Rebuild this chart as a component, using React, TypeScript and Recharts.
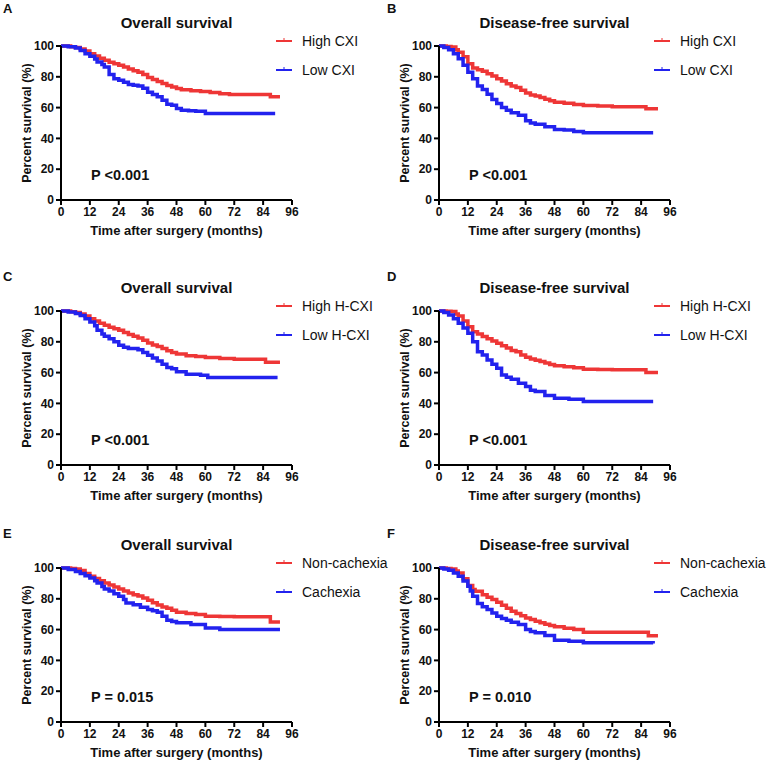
import React from 'react';
import { LineChart, Line, XAxis, YAxis } from 'recharts';

const xTicks = [0, 12, 24, 36, 48, 60, 72, 84, 96];
const yTicks = [0, 20, 40, 60, 80, 100];

// Panel A — Overall survival, CXI
const aHighT = [0, 4, 6, 8, 10, 12, 14, 16, 18, 20, 22, 24, 26, 28, 30, 32, 34, 36, 38, 40, 42, 44, 46, 48, 50, 54, 58, 62, 66, 70, 87, 91];
const aHighS = [100, 99.5, 99, 98, 96.8, 95, 93.5, 92, 90.7, 89.5, 88.5, 87.5, 86.3, 85, 84, 83, 81.5, 79.5, 78.3, 77, 75.6, 74.4, 73.3, 72.4, 71.6, 71, 70.5, 69.8, 69, 68.5, 67, 67];
const aLowT = [0, 3, 6, 8, 10, 12, 14, 15, 17, 18, 20, 22, 24, 26, 28, 30, 32, 34, 36, 38, 40, 42, 44, 46, 48, 50, 53, 56, 60, 89];
const aLowS = [100, 99.5, 98.7, 97, 95, 93.3, 91.5, 89.6, 88, 86.4, 81.5, 78.8, 77.8, 76.5, 75, 74.5, 74, 72.5, 70, 68.5, 67, 64.8, 62.2, 61.5, 59.4, 58.3, 58, 57.7, 56.2, 56.2];

// Panel B — Disease-free survival, CXI
const bHighT = [0, 3, 5, 7, 8, 10, 12, 14, 16, 18, 20, 22, 24, 26, 28, 30, 32, 34, 36, 38, 40, 42, 44, 46, 48, 52, 56, 60, 66, 72, 86, 91];
const bHighS = [100, 99.7, 99.4, 97.5, 96, 93, 88.5, 85.7, 84.5, 83.6, 82, 80.5, 78.8, 77.2, 75.5, 74, 73, 71.2, 69.5, 68.2, 67.5, 66.5, 65.4, 64.4, 63.4, 62.8, 62, 61.3, 61, 60.5, 59.2, 59.2];
const bLowT = [0, 2, 4, 6, 8, 10, 12, 14, 16, 18, 20, 22, 24, 26, 28, 30, 33, 36, 38, 40, 44, 48, 52, 56, 60, 89];
const bLowS = [100, 99, 97.6, 95, 91.8, 87.5, 83, 78.8, 74, 71.7, 68.7, 65.2, 62.6, 60, 58.3, 56.6, 55, 51.4, 50, 49.2, 47.5, 45.8, 45.4, 44.5, 43.6, 43.6];

// Panel C — Overall survival, H-CXI
const cHighT = [0, 4, 6, 8, 10, 12, 14, 16, 18, 20, 22, 24, 26, 28, 30, 32, 34, 36, 38, 40, 42, 44, 46, 48, 52, 56, 60, 66, 72, 85, 91];
const cHighS = [100, 99.5, 99, 98, 96.8, 95, 93.5, 92, 90.7, 89.5, 88.5, 87.5, 86, 84.7, 83.6, 82.5, 81, 79.3, 78, 77, 75.6, 74.2, 73, 72, 71, 70.5, 69.8, 69.2, 68.7, 66.8, 66.8];
const cLowT = [0, 3, 6, 8, 10, 12, 14, 15, 17, 18, 20, 22, 24, 26, 28, 32, 34, 36, 38, 40, 42, 44, 46, 48, 52, 58, 61, 90];
const cLowS = [100, 99.3, 98.3, 97, 95, 92.9, 90.5, 87.5, 85, 83.6, 82, 80, 77.8, 76.5, 75.6, 74.9, 73, 71.3, 69.5, 67.6, 65.5, 63.3, 62.5, 60.5, 59, 58.3, 56.8, 56.8];

// Panel D — Disease-free survival, H-CXI
const dHighT = [0, 3, 5, 7, 8, 10, 12, 14, 16, 18, 20, 22, 24, 26, 28, 30, 32, 34, 36, 38, 40, 42, 44, 46, 48, 52, 56, 60, 66, 72, 86, 91];
const dHighS = [100, 99.8, 99.6, 98, 96.8, 93.5, 89.8, 86.6, 85, 83.4, 82, 80.5, 79, 77.5, 76, 74.3, 73.5, 71.5, 70, 68.8, 68, 67.2, 66.3, 65.2, 64.4, 63.8, 63.2, 62.2, 62, 61.8, 60, 60];
const dLowT = [0, 2, 4, 6, 8, 10, 12, 14, 16, 18, 20, 22, 24, 26, 28, 30, 33, 36, 38, 40, 44, 48, 54, 60, 89];
const dLowS = [100, 99, 97.4, 95, 92, 89, 85.5, 80, 73.6, 71.5, 68.2, 65.5, 62.8, 58.5, 57, 55.7, 53.1, 50.9, 48.5, 47.7, 45.1, 43.4, 42.7, 41.2, 41.2];

// Panel E — Overall survival, cachexia
const eHighT = [0, 4, 6, 8, 10, 12, 14, 16, 18, 20, 22, 24, 26, 28, 30, 32, 34, 36, 38, 40, 42, 44, 46, 48, 52, 56, 60, 66, 72, 87, 91];
const eHighS = [100, 99.7, 99.4, 98.3, 96.5, 94.6, 93.2, 91.8, 90.3, 89, 87.6, 86.4, 85, 83.8, 82.7, 81.8, 80.5, 79, 77.5, 76, 74.7, 73.8, 72.5, 71.3, 70.5, 69.8, 68.7, 68.5, 68.3, 65, 65];
const eLowT = [0, 3, 6, 8, 10, 12, 14, 15, 17, 18, 20, 22, 24, 26, 27, 30, 33, 36, 38, 40, 42, 44, 46, 48, 54, 60, 66, 91];
const eLowS = [100, 99, 97.8, 96.5, 95, 93.5, 91.8, 90.3, 88, 86.4, 85, 83.2, 81.6, 79.5, 77.3, 76.2, 74.5, 73, 72.2, 71.3, 68.7, 66.1, 65.2, 64.4, 63.3, 61.1, 60, 60];

// Panel F — Disease-free survival, cachexia
const fHighT = [0, 3, 5, 7, 8, 10, 12, 14, 15, 18, 20, 22, 24, 26, 28, 30, 32, 34, 36, 38, 40, 42, 44, 46, 48, 52, 56, 60, 87, 91];
const fHighS = [100, 99.7, 99.4, 98, 96.8, 93, 88.6, 86, 84.9, 82.7, 81, 79.5, 77.8, 75.8, 73.8, 71.9, 70.5, 69, 67.6, 66.5, 65.5, 64.4, 63.5, 62.6, 61.8, 60.8, 60, 58.3, 56, 56];
const fLowT = [0, 2, 4, 6, 8, 10, 12, 13, 14, 16, 18, 20, 22, 24, 26, 28, 30, 33, 36, 38, 40, 44, 48, 54, 60, 89];
const fLowS = [100, 99.3, 98.5, 96.8, 94.6, 91.5, 88.1, 85, 81.6, 76.9, 74.8, 73, 70.8, 68.7, 67.2, 66, 64.8, 63.3, 60, 58.8, 57.9, 56.2, 53.1, 52.5, 51.4, 51];

const RED = '#ee3636';
const BLUE = '#2222ee';
const FONT = '"Liberation Sans", Arial, sans-serif';

const toPoints = (t: number[], s: number[]) => t.map((x, i) => ({ t: x, s: s[i] }));

type PanelProps = {
  left: number;
  top: number;
  plotLeft: number;
  letter: string;
  letterTop: number;
  title: string;
  highLabel: string;
  lowLabel: string;
  highT: number[];
  highS: number[];
  lowT: number[];
  lowS: number[];
  pText: string;
};

const PLOT_W = 231;
const CHART_W = 383;
const CHART_H = 250;
const TOP_M = 46;

function LegendRow({ color, label, x, y }: { color: string; label: string; x: number; y: number }) {
  return (
    <div style={{ position: 'absolute', left: x, top: y - 9, height: 18, display: 'flex', alignItems: 'center', whiteSpace: 'nowrap' }}>
      <svg width={16} height={10} style={{ display: 'block' }}>
        <line x1={0} y1={5} x2={16} y2={5} stroke={color} strokeWidth={2} />
        <line x1={8} y1={2} x2={8} y2={5} stroke={color} strokeWidth={1} />
      </svg>
      <span style={{ marginLeft: 10, fontFamily: FONT, fontSize: 14, color: '#111' }}>{label}</span>
    </div>
  );
}

function Panel(p: PanelProps) {
  const plotRight = p.plotLeft + PLOT_W;
  const high = toPoints(p.highT, p.highS);
  const low = toPoints(p.lowT, p.lowS);
  return (
    <div style={{ position: 'absolute', left: p.left, top: p.top, width: CHART_W, height: CHART_H }}>
      <div style={{ position: 'absolute', left: 3, top: p.letterTop - 8, fontFamily: FONT, fontWeight: 'bold', fontSize: 13, lineHeight: '16px', color: '#111' }}>{p.letter}</div>
      <div style={{ position: 'absolute', left: p.plotLeft, width: PLOT_W, top: 23 - 10, textAlign: 'center', fontFamily: FONT, fontWeight: 'bold', fontSize: 15, lineHeight: '20px', color: '#111', whiteSpace: 'nowrap' }}>{p.title}</div>
      <div style={{ position: 'absolute', left: 0, top: 0 }}>
        <LineChart width={CHART_W} height={CHART_H} margin={{ top: TOP_M, right: CHART_W - plotRight, left: 0, bottom: 10 }}>
          <XAxis
            type="number"
            dataKey="t"
            domain={[0, 96]}
            ticks={xTicks}
            interval={0}
            height={40}
            tickSize={5}
            axisLine={{ stroke: '#000', strokeWidth: 2 }}
            tickLine={{ stroke: '#000', strokeWidth: 2 }}
            tick={{ fill: '#111', fontSize: 12, fontWeight: 'bold', fontFamily: FONT }}
            label={{ value: 'Time after surgery (months)', position: 'insideBottom', offset: 5, fill: '#111', fontSize: 13, fontWeight: 'bold', fontFamily: FONT }}
          />
          <YAxis
            type="number"
            domain={[0, 100]}
            ticks={yTicks}
            interval={0}
            width={p.plotLeft}
            tickSize={5}
            axisLine={{ stroke: '#000', strokeWidth: 2 }}
            tickLine={{ stroke: '#000', strokeWidth: 2 }}
            tick={{ fill: '#111', fontSize: 12, fontWeight: 'bold', fontFamily: FONT }}
            label={{ value: 'Percent survival (%)', angle: -90, position: 'insideLeft', offset: p.plotLeft - 34, fill: '#111', fontSize: 12.5, fontWeight: 'bold', fontFamily: FONT, style: { textAnchor: 'middle' } }}
          />
          <Line data={high} dataKey="s" type="stepAfter" stroke={RED} strokeWidth={3.5} dot={false} activeDot={false} isAnimationActive={false} />
          <Line data={low} dataKey="s" type="stepAfter" stroke={BLUE} strokeWidth={3.5} dot={false} activeDot={false} isAnimationActive={false} />
        </LineChart>
      </div>
      <LegendRow color={RED} label={p.highLabel} x={plotRight - 16} y={41} />
      <LegendRow color={BLUE} label={p.lowLabel} x={plotRight - 16} y={70} />
      <div style={{ position: 'absolute', left: p.plotLeft + 30, top: 175 - 9, fontFamily: FONT, fontWeight: 'bold', fontSize: 14.5, lineHeight: '18px', color: '#111', whiteSpace: 'nowrap' }}>{p.pText}</div>
    </div>
  );
}

export default function App() {
  return (
    <div style={{ position: 'absolute', left: 0, top: 0, width: 767, height: 762, background: '#fff', overflow: 'hidden' }}>
      <Panel left={0} top={0} plotLeft={61} letter="A" letterTop={9} title="Overall survival" highLabel="High CXI" lowLabel="Low CXI" highT={aHighT} highS={aHighS} lowT={aLowT} lowS={aLowS} pText="P <0.001" />
      <Panel left={384} top={0} plotLeft={55} letter="B" letterTop={9} title="Disease-free survival" highLabel="High CXI" lowLabel="Low CXI" highT={bHighT} highS={bHighS} lowT={bLowT} lowS={bLowS} pText="P <0.001" />
      <Panel left={0} top={265} plotLeft={61} letter="C" letterTop={12} title="Overall survival" highLabel="High H-CXI" lowLabel="Low H-CXI" highT={cHighT} highS={cHighS} lowT={cLowT} lowS={cLowS} pText="P <0.001" />
      <Panel left={384} top={265} plotLeft={55} letter="D" letterTop={12} title="Disease-free survival" highLabel="High H-CXI" lowLabel="Low H-CXI" highT={dHighT} highS={dHighS} lowT={dLowT} lowS={dLowS} pText="P <0.001" />
      <Panel left={0} top={522} plotLeft={61} letter="E" letterTop={12} title="Overall survival" highLabel="Non-cachexia" lowLabel="Cachexia" highT={eHighT} highS={eHighS} lowT={eLowT} lowS={eLowS} pText="P = 0.015" />
      <Panel left={384} top={522} plotLeft={55} letter="F" letterTop={12} title="Disease-free survival" highLabel="Non-cachexia" lowLabel="Cachexia" highT={fHighT} highS={fHighS} lowT={fLowT} lowS={fLowS} pText="P = 0.010" />
    </div>
  );
}
